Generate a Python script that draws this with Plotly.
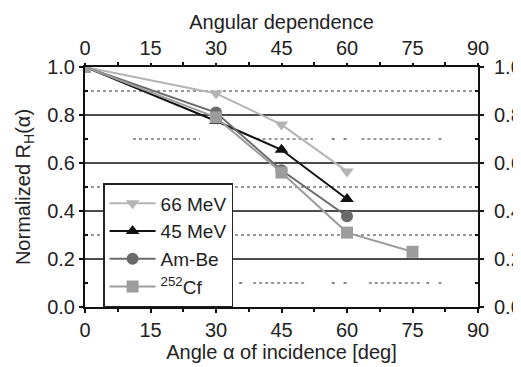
import plotly.graph_objects as go

angles = [0, 15, 30, 45, 60, 75, 90]
angle_66 = [0, 30, 45, 60]
r_66mev = [1.0, 0.89, 0.76, 0.565]
angle_45 = [0, 30, 45, 60]
r_45mev = [1.0, 0.775, 0.655, 0.45]
angle_ambe = [0, 30, 45, 60]
r_ambe = [1.0, 0.81, 0.57, 0.378]
angle_cf = [0, 30, 45, 60, 75]
r_cf = [1.0, 0.79, 0.56, 0.31, 0.23]

solid_grid = [0.2, 0.4, 0.6, 0.8]
# dotted reference lines: (level, list of x-segments)
dotted_grid = [
    (0.9, [(0, 90)]),
    (0.7, [(11, 26.3), (39.3, 52.2), (56.5, 57.2), (59.2, 59.9), (63.3, 79), (81, 81.6)]),
    (0.5, [(0, 90)]),
    (0.3, [(0, 90)]),
    (0.1, [(35.3, 36), (38.5, 50.8), (56.5, 57.2), (59.2, 59.9), (65, 77.2), (78.2, 78.8), (81, 81.6)]),
]

FONT = "Liberation Sans, Arial, sans-serif"
fig = go.Figure()

series = [
    ("66 MeV", angle_66, r_66mev, "#b4b4b4", "triangle-down"),
    ("45 MeV", angle_45, r_45mev, "#111111", "triangle-up"),
    ("Am-Be", angle_ambe, r_ambe, "#6a6a6a", "circle"),
    ("<sup>252</sup>Cf", angle_cf, r_cf, "#9c9c9c", "square"),
]

for level, segs in dotted_grid:
    for a, b in segs:
        fig.add_shape(type="line", xref="x", yref="y", x0=a, x1=b, y0=level, y1=level,
                      line=dict(color="#333333", width=1.2, dash="dot"), layer="below")
for level in solid_grid:
    fig.add_shape(type="line", xref="x", yref="y", x0=0, x1=90, y0=level, y1=level,
                  line=dict(color="#111111", width=1.6), layer="below")

for name, xs, ys, col, sym in series:
    fig.add_trace(go.Scatter(x=xs, y=ys, name=name, mode="lines+markers",
                             line=dict(color=col, width=2),
                             marker=dict(symbol=sym, size=12, color=col)))

fig.add_trace(go.Scatter(x=[None], y=[None], xaxis="x2", yaxis="y2", showlegend=False))

TS = 20
def axis_common(tl=4):
    return dict(showgrid=False, zeroline=False, showline=True, linecolor="#111111",
                linewidth=2, ticks="outside", ticklen=tl, tickwidth=1.5, tickcolor="#111111",
                automargin=False,
                tickfont=dict(size=TS, color="#222222", family=FONT))
xminor = dict(tickvals=[7.5, 22.5, 37.5, 52.5, 67.5, 82.5], ticks="outside", ticklen=3, tickcolor="#111111")
yminor = dict(tickvals=[0.1, 0.3, 0.5, 0.7, 0.9], ticks="inside", ticklen=3, tickcolor="#111111")

fig.update_layout(
    width=513, height=359,
    margin=dict(l=77, r=43, t=59, b=60),
    paper_bgcolor="white", plot_bgcolor="white",
    font=dict(family=FONT, color="#222222"),
    xaxis=dict(range=[0, 90], tickvals=angles, **axis_common(4), minor=xminor,
               title=dict(text="Angle α of incidence [deg]", font=dict(size=TS, family=FONT), standoff=0)),
    yaxis=dict(range=[0, 1.0], tickvals=[0, 0.2, 0.4, 0.6, 0.8, 1.0], tickformat=".1f", **axis_common(4),
               minor=yminor,
               title=dict(text="Normalized R<sub>H</sub>(α)", font=dict(size=TS, family=FONT), standoff=11)),
    xaxis2=dict(range=[0, 90], tickvals=angles, overlaying="x", side="top", anchor="y2", **axis_common(2),
                minor=xminor,
                title=dict(text="Angular dependence", font=dict(size=TS, family=FONT), standoff=2)),
    yaxis2=dict(range=[0, 1.0], tickvals=[0, 0.2, 0.4, 0.6, 0.8, 1.0], tickformat=".1f", overlaying="y",
                side="right", anchor="x2", **axis_common(4), minor=yminor, ticklabelstandoff=6),
    legend=dict(x=0.046, y=0.0, xanchor="left", yanchor="bottom", bgcolor="white",
                bordercolor="#222222", borderwidth=1.5, font=dict(size=19, family=FONT),
                tracegroupgap=0, itemwidth=46),
    showlegend=True,
)

fig.write_html("out.html")
